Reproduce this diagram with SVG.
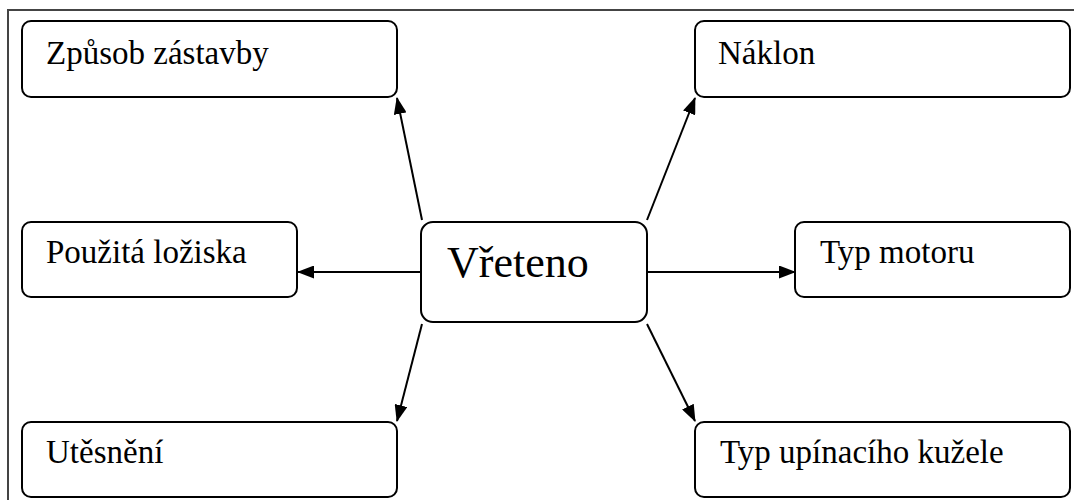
<svg xmlns="http://www.w3.org/2000/svg" width="1074" height="500" viewBox="0 0 1074 500">
<style>
.box{fill:#fff;stroke:#000;stroke-width:2}
text{font-family:'Liberation Serif','Times New Roman',Tinos,'DejaVu Serif',serif;fill:#000}
.lbl{font-size:33px}
.main{font-size:44px}
.conn{stroke:#000;stroke-width:2;fill:none;marker-end:url(#arr)}
</style>
<defs>
<marker id="arr" viewBox="0 0 17 13" refX="16" refY="6.5" markerWidth="17" markerHeight="13" markerUnits="userSpaceOnUse" orient="auto">
<path d="M0,0 L17,6.5 L0,13 Z" fill="#000"/>
</marker>
</defs>
<rect width="1074" height="500" fill="#fff"/>
<path d="M8,500 V10 H1074" fill="none" stroke="#444" stroke-width="2"/>
<g id="connectors">
<line class="conn" x1="422" y1="220" x2="397" y2="98"/>
<line class="conn" x1="647" y1="220" x2="695" y2="98"/>
<line class="conn" x1="421" y1="272" x2="298" y2="272"/>
<line class="conn" x1="647" y1="272" x2="795" y2="272"/>
<line class="conn" x1="422" y1="324" x2="397" y2="421"/>
<line class="conn" x1="647" y1="324" x2="695" y2="421"/>
</g>
<g id="n-zpusob"><rect class="box" x="22" y="21" width="375" height="76" rx="9"/><text class="lbl" x="46" y="64">Způsob zástavby</text></g>
<g id="n-naklon"><rect class="box" x="695" y="21" width="375" height="76" rx="9"/><text class="lbl" x="718" y="64">Náklon</text></g>
<g id="n-loziska"><rect class="box" x="22" y="222" width="275" height="75" rx="9"/><text class="lbl" x="46" y="263">Použitá ložiska</text></g>
<g id="n-vreteno"><rect class="box" x="421" y="222" width="226" height="100" rx="12"/><text class="main" x="447" y="277">Vřeteno</text></g>
<g id="n-motor"><rect class="box" x="795" y="222" width="275" height="75" rx="9"/><text class="lbl" x="820" y="263">Typ motoru</text></g>
<g id="n-utesneni"><rect class="box" x="22" y="422" width="375" height="75" rx="9"/><text class="lbl" x="46" y="463">Utěsnění</text></g>
<g id="n-kuzel"><rect class="box" x="695" y="422" width="375" height="75" rx="9"/><text class="lbl" x="720" y="463">Typ upínacího kužele</text></g>
</svg>
